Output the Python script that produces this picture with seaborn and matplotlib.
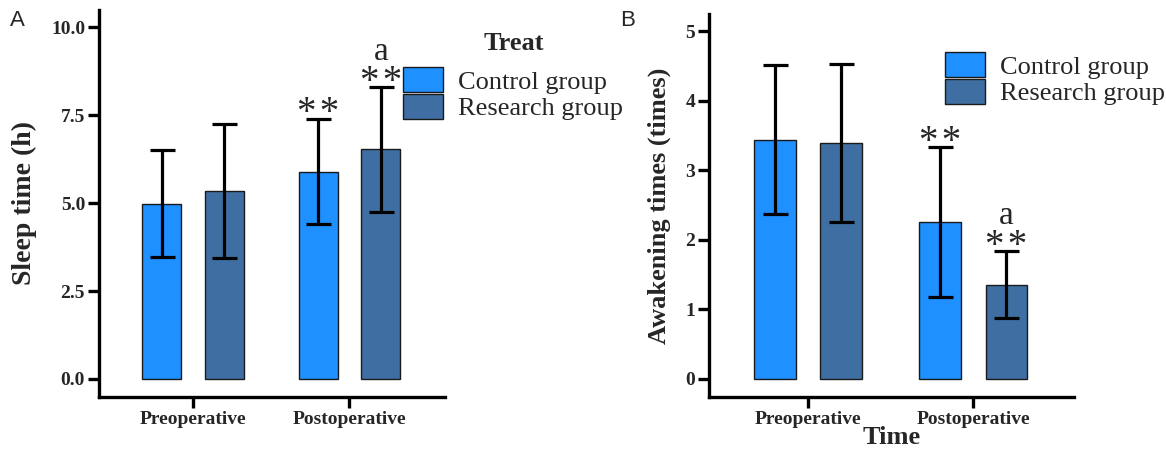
import pandas as pd
import matplotlib.pyplot as plt
import seaborn as sns

# data
categories = ['Preoperative', 'Postoperative']
groups = ['Control group', 'Research group']

sleep_control = [4.99, 5.90]
sleep_research = [5.35, 6.53]
sleep_sd_control = [1.53, 1.50]
sleep_sd_research = [1.90, 1.77]

awake_control = [3.44, 2.25]
awake_research = [3.39, 1.35]
awake_sd_control = [1.07, 1.08]
awake_sd_research = [1.14, 0.48]

colors = ['#1e90ff', '#3f6fa2']

sns.set_theme(style='white')
plt.rcParams['font.family'] = ['Liberation Serif', 'DejaVu Serif']


def make_df(ctrl, res, sd_c, sd_r):
    return pd.DataFrame({
        'time': categories * 2,
        'group': [groups[0]] * 2 + [groups[1]] * 2,
        'value': ctrl + res,
        'sd': sd_c + sd_r,
    })


def draw_panel(ax, df, ylim, yticks, ticklabels, ylabel, ylabel_size):
    sns.barplot(data=df, x='time', y='value', hue='group', order=categories,
                hue_order=groups, palette=colors, width=0.8, gap=0.375,
                edgecolor='#1a1a1a', linewidth=1.0, saturation=1, errorbar=None,
                legend=True, ax=ax)
    # error bars at bar centres
    tops = {}
    bar_conts = list(ax.containers)
    for gi, cont in enumerate(bar_conts):
        for ci, bar in enumerate(cont):
            row = df[(df['group'] == groups[gi]) & (df['time'] == categories[ci])].iloc[0]
            xc = bar.get_x() + bar.get_width() / 2
            ax.errorbar(xc, row['value'], yerr=row['sd'], fmt='none', ecolor='black',
                        elinewidth=2.3, capsize=9, capthick=2.3, zorder=5)
            tops[(gi, ci)] = (xc, row['value'] + row['sd'])
    ax.set_xlim(-0.6, 1.61)
    ax.set_ylim(*ylim)
    ax.set_yticks(yticks)
    ax.set_yticklabels(ticklabels)
    sns.despine(ax=ax)
    for s in ['left', 'bottom']:
        ax.spines[s].set_linewidth(2.4)
        ax.spines[s].set_color('black')
    ax.tick_params(axis='both', direction='out', length=8, width=2.4, color='black',
                   labelsize=14, pad=2, left=True, bottom=True)
    for lab in ax.get_xticklabels() + ax.get_yticklabels():
        lab.set_fontweight('bold')
    ax.set_ylabel(ylabel, fontsize=ylabel_size, fontweight='bold', labelpad=10)
    ax.set_xlabel('')
    return tops


def mark(ax, pos, letter=False):
    xc, y = pos
    ax.annotate('*\u200a*', (xc, y), xytext=(0, -3.2), textcoords='offset points',
                ha='center', va='baseline', fontsize=28)
    if letter:
        ax.annotate('a', (xc, y), xytext=(0, 19.5), textcoords='offset points',
                    ha='center', va='baseline', fontsize=24)


fig = plt.figure(figsize=(11.66, 4.49), dpi=100)
ax1 = fig.add_axes([0.0849, 0.116, 0.2967, 0.862])
ax2 = fig.add_axes([0.608, 0.116, 0.313, 0.853])

df_sleep = make_df(sleep_control, sleep_research, sleep_sd_control, sleep_sd_research)
tops1 = draw_panel(ax1, df_sleep, (-0.51, 10.5), [0, 2.5, 5, 7.5, 10],
                   ['0.0', '2.5', '5.0', '7.5', '10.0'], 'Sleep time (h)', 20)
mark(ax1, tops1[(0, 1)])
mark(ax1, tops1[(1, 1)], letter=True)

df_awake = make_df(awake_control, awake_research, awake_sd_control, awake_sd_research)
tops2 = draw_panel(ax2, df_awake, (-0.264, 5.25), [0, 1, 2, 3, 4, 5],
                   ['0', '1', '2', '3', '4', '5'], 'Awakening times (times)', 19)
mark(ax2, tops2[(0, 1)])
mark(ax2, tops2[(1, 1)], letter=True)
ax2.set_xlabel('Time', fontsize=19, fontweight='bold', labelpad=-1)

leg_kw = dict(loc='upper left', bbox_transform=fig.transFigure, frameon=False,
              fontsize=19, handlelength=1.52, handleheight=1.1, handletextpad=0.57,
              labelspacing=0.0, borderpad=0, borderaxespad=0)
h, l = ax1.get_legend_handles_labels()
leg1 = ax1.legend(h, l, bbox_to_anchor=(403 / 1166, 1 - 67 / 449), **leg_kw)
h, l = ax2.get_legend_handles_labels()
leg2 = ax2.legend(h, l, bbox_to_anchor=(945 / 1166, 1 - 52 / 449), **leg_kw)
for leg in (leg1, leg2):
    for p in leg.get_patches():
        p.set_edgecolor('#1a1a1a')
        p.set_linewidth(1.0)

fig.text(514 / 1166, 1 - 43 / 449, 'Treat', fontsize=19, fontweight='bold',
         ha='center', va='center')
fig.text(10 / 1166, 1 - 26 / 449, 'A', fontsize=16, family='Liberation Sans')
fig.text(620 / 1166, 1 - 26 / 449, 'B', fontsize=16, family='Liberation Sans')

fig.savefig('out.png', dpi=100)
